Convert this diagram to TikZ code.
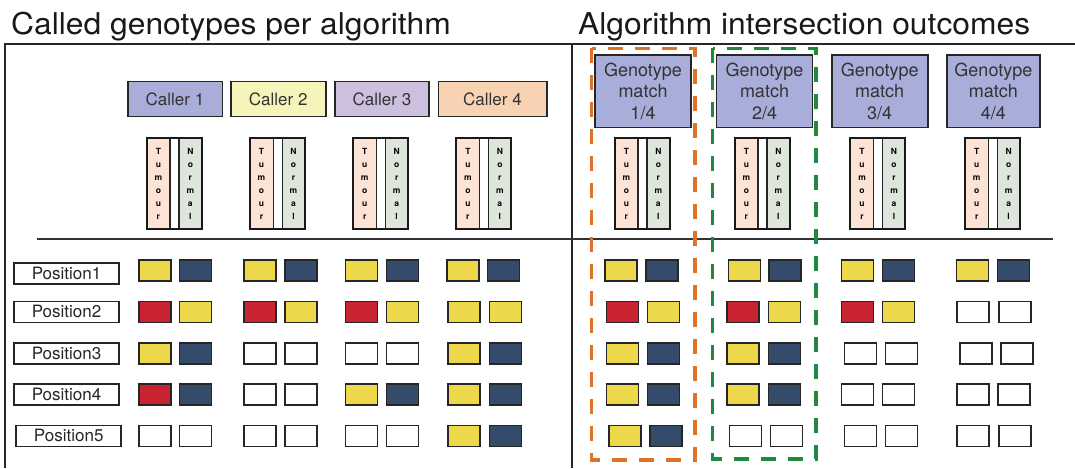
\documentclass[tikz,border=0pt]{standalone}
\usepackage{fontspec}
\usepackage{graphicx}
\setmainfont{TeX Gyre Heros}
\definecolor{cblue}{HTML}{A8AED9}
\definecolor{cyel}{HTML}{F6F4BA}
\definecolor{cvio}{HTML}{CDC0DE}
\definecolor{cpeach}{HTML}{F7D3B4}
\definecolor{tumfill}{HTML}{FCE3D6}
\definecolor{norfill}{HTML}{DEE5DA}
\definecolor{gY}{HTML}{EDD84B}
\definecolor{gN}{HTML}{354B6C}
\definecolor{gR}{HTML}{C92230}
\definecolor{gW}{HTML}{FFFFFF}
\definecolor{dashO}{HTML}{E07227}
\definecolor{dashG}{HTML}{1E8A3E}
\newcommand\gpair[6]{%
  \node[gsq,fill=#5] (#1a) at (#2,#4) {};
  \node[gsq,fill=#6] (#1b) at (#3,#4) {};}
\newcommand\tngroup[2]{%
  \node[colbox,fill=tumfill,minimum width=23.3pt] (#1t) at (#2-15.85,183.7) {T\\u\\m\\o\\u\\r};
  \node[colbox,fill=norfill,minimum width=22.7pt] (#1n) at (#2+16.15,183.7) {N\\o\\r\\m\\a\\l};
  \node[grpframe] (#1) at (#2,183.7) {};}
\begin{document}
\begin{tikzpicture}[x=1pt,y=-1pt,
  frameline/.style={line width=1.6pt, draw=black!85},
  sepline/.style={line width=1.4pt, draw=black!80},
  callerbox/.style={draw=black!85, line width=1.6pt, minimum height=35pt, font=\fontsize{17}{20}\selectfont, text=black!80, inner sep=0pt},
  genobox/.style={draw=black!85, line width=1.6pt, fill=cblue, minimum width=96pt, minimum height=72.7pt, align=center, font=\fontsize{18}{21.5}\selectfont, text=black!80, inner sep=0pt},
  colbox/.style={draw=black!85, line width=1.1pt, minimum height=90.7pt, inner sep=0pt, align=center, font=\bfseries\fontsize{8.5}{13}\selectfont},
  grpframe/.style={draw=black!90, line width=2pt, minimum width=55pt, minimum height=90.7pt, inner sep=0pt},
  posbox/.style={draw=black!85, line width=1.5pt, minimum width=105pt, minimum height=21pt, inner sep=0pt, font=\fontsize{17}{20}\selectfont, text=black!85},
  gsq/.style={draw=black!85, line width=1.4pt, minimum width=32pt, minimum height=21pt, inner sep=0pt},
  titletext/.style={font=\fontsize{30}{36}\selectfont, anchor=base west, inner sep=0pt, text=black!90},
  dashbox/.style={line width=3.5pt, dash pattern=on 15pt off 12pt}
]
\useasboundingbox (0,0) rectangle (1075,468);
% titles
\node[titletext] (t1) at (11,35) {\scalebox{1.06}[1]{Called genotypes per algorithm}};
\node[titletext] (t2) at (578,35) {\scalebox{1.06}[1]{Algorithm intersection outcomes}};
% frame
\draw[frameline] (5,468) -- (5,44) -- (1075,44);
\draw[frameline] (572,44) -- (572,468);
\draw[sepline] (37,239) -- (1053,239);
% dashed boxes
\draw[dashbox, draw=dashO] (591.5,48.3) rectangle (695,460);
\draw[dashbox, draw=dashG] (712.7,48.3) rectangle (816,459);
% callers
\node[callerbox, fill=cblue, minimum width=94.6pt] (c1) at (175,99.2) {Caller 1};
\node[callerbox, fill=cyel, minimum width=95pt] (c2) at (278.2,99.2) {Caller 2};
\node[callerbox, fill=cvio, minimum width=94pt] (c3) at (382,99.2) {Caller 3};
\node[callerbox, fill=cpeach, minimum width=108.4pt] (c4) at (492.5,99.2) {Caller 4};
% genotype match boxes
\node[genobox] (m1) at (643,91.3) {Genotype\\match\\1/4};
\node[genobox] (m2) at (764.5,91.3) {Genotype\\match\\2/4};
\node[genobox] (m3) at (879.7,91.3) {Genotype\\match\\3/4};
\node[genobox, minimum width=93.3pt] (m4) at (993.4,91.3) {Genotype\\match\\4/4};
% tumour / normal groups
\tngroup{g1}{174.2}
\tngroup{g2}{277.3}
\tngroup{g3}{380.5}
\tngroup{g4}{483.7}
\tngroup{h1}{642.2}
\tngroup{h2}{762.2}
\tngroup{h3}{877.9}
\tngroup{h4}{992.5}
% positions
\node[posbox] (p1) at (66.5,273.6) {Position1};
\node[posbox] (p2) at (66.5,311.8) {Position2};
\node[posbox] (p3) at (66.5,353.6) {Position3};
\node[posbox] (p4) at (66.5,394.5) {Position4};
\node[posbox] (p5) at (68.7,435.8) {Position5};
% caller 1
\gpair{a11}{154.9}{195.4}{270.3}{gY}{gN}
\gpair{a12}{154.9}{195.4}{311.8}{gR}{gY}
\gpair{a13}{154.9}{195.4}{353.6}{gY}{gN}
\gpair{a14}{154.9}{195.4}{394.5}{gR}{gN}
\gpair{a15}{154.9}{195.4}{435.8}{gW}{gW}
% caller 2
\gpair{a21}{260}{301}{270.3}{gY}{gN}
\gpair{a22}{260}{301}{311.8}{gR}{gY}
\gpair{a23}{260}{301}{353.6}{gW}{gW}
\gpair{a24}{260}{301}{394.5}{gW}{gW}
\gpair{a25}{260}{301}{435.8}{gW}{gW}
% caller 3
\gpair{a31}{361.3}{402.5}{270.3}{gY}{gN}
\gpair{a32}{361.3}{402.5}{311.8}{gR}{gY}
\gpair{a33}{361.3}{402.5}{353.6}{gW}{gW}
\gpair{a34}{361.3}{402.5}{394.5}{gY}{gN}
\gpair{a35}{361.3}{402.5}{435.8}{gW}{gW}
% caller 4
\gpair{a41}{462.9}{503.7}{270.3}{gY}{gN}
\gpair{a42}{463.8}{505.5}{311.8}{gY}{gY}
\gpair{a43}{463.8}{505.5}{353.6}{gY}{gN}
\gpair{a44}{463.8}{505.5}{394.5}{gY}{gN}
\gpair{a45}{463.8}{505.5}{435.8}{gY}{gN}
% match 1/4
\gpair{b11}{621}{662}{270.3}{gY}{gN}
\gpair{b12}{622.5}{663.5}{311.8}{gR}{gY}
\gpair{b13}{622.5}{663.5}{353.6}{gY}{gN}
\gpair{b14}{622.5}{663.5}{394.5}{gY}{gN}
\gpair{b15}{625}{666}{435.8}{gY}{gN}
% match 2/4
\gpair{b21}{744.5}{785}{270.3}{gY}{gN}
\gpair{b22}{743}{784.5}{311.8}{gR}{gY}
\gpair{b23}{743}{784.5}{353.6}{gY}{gN}
\gpair{b24}{743}{784.5}{394.5}{gY}{gN}
\gpair{b25}{745.3}{786.3}{435.8}{gW}{gW}
% match 3/4
\gpair{b31}{857.5}{898.2}{270.3}{gY}{gN}
\gpair{b32}{857.5}{898.7}{311.8}{gR}{gY}
\gpair{b33}{860.2}{901.5}{353.6}{gW}{gW}
\gpair{b34}{857.5}{898.7}{394.5}{gW}{gW}
\gpair{b35}{860.2}{901.5}{435.8}{gW}{gW}
% match 4/4
\gpair{b41}{972.2}{1013.2}{270.3}{gY}{gN}
\gpair{b42}{973}{1015}{311.8}{gW}{gW}
\gpair{b43}{975.8}{1016.8}{353.6}{gW}{gW}
\gpair{b44}{973}{1014}{394.5}{gW}{gW}
\gpair{b45}{973}{1015}{435.8}{gW}{gW}
\end{tikzpicture}
\end{document}
